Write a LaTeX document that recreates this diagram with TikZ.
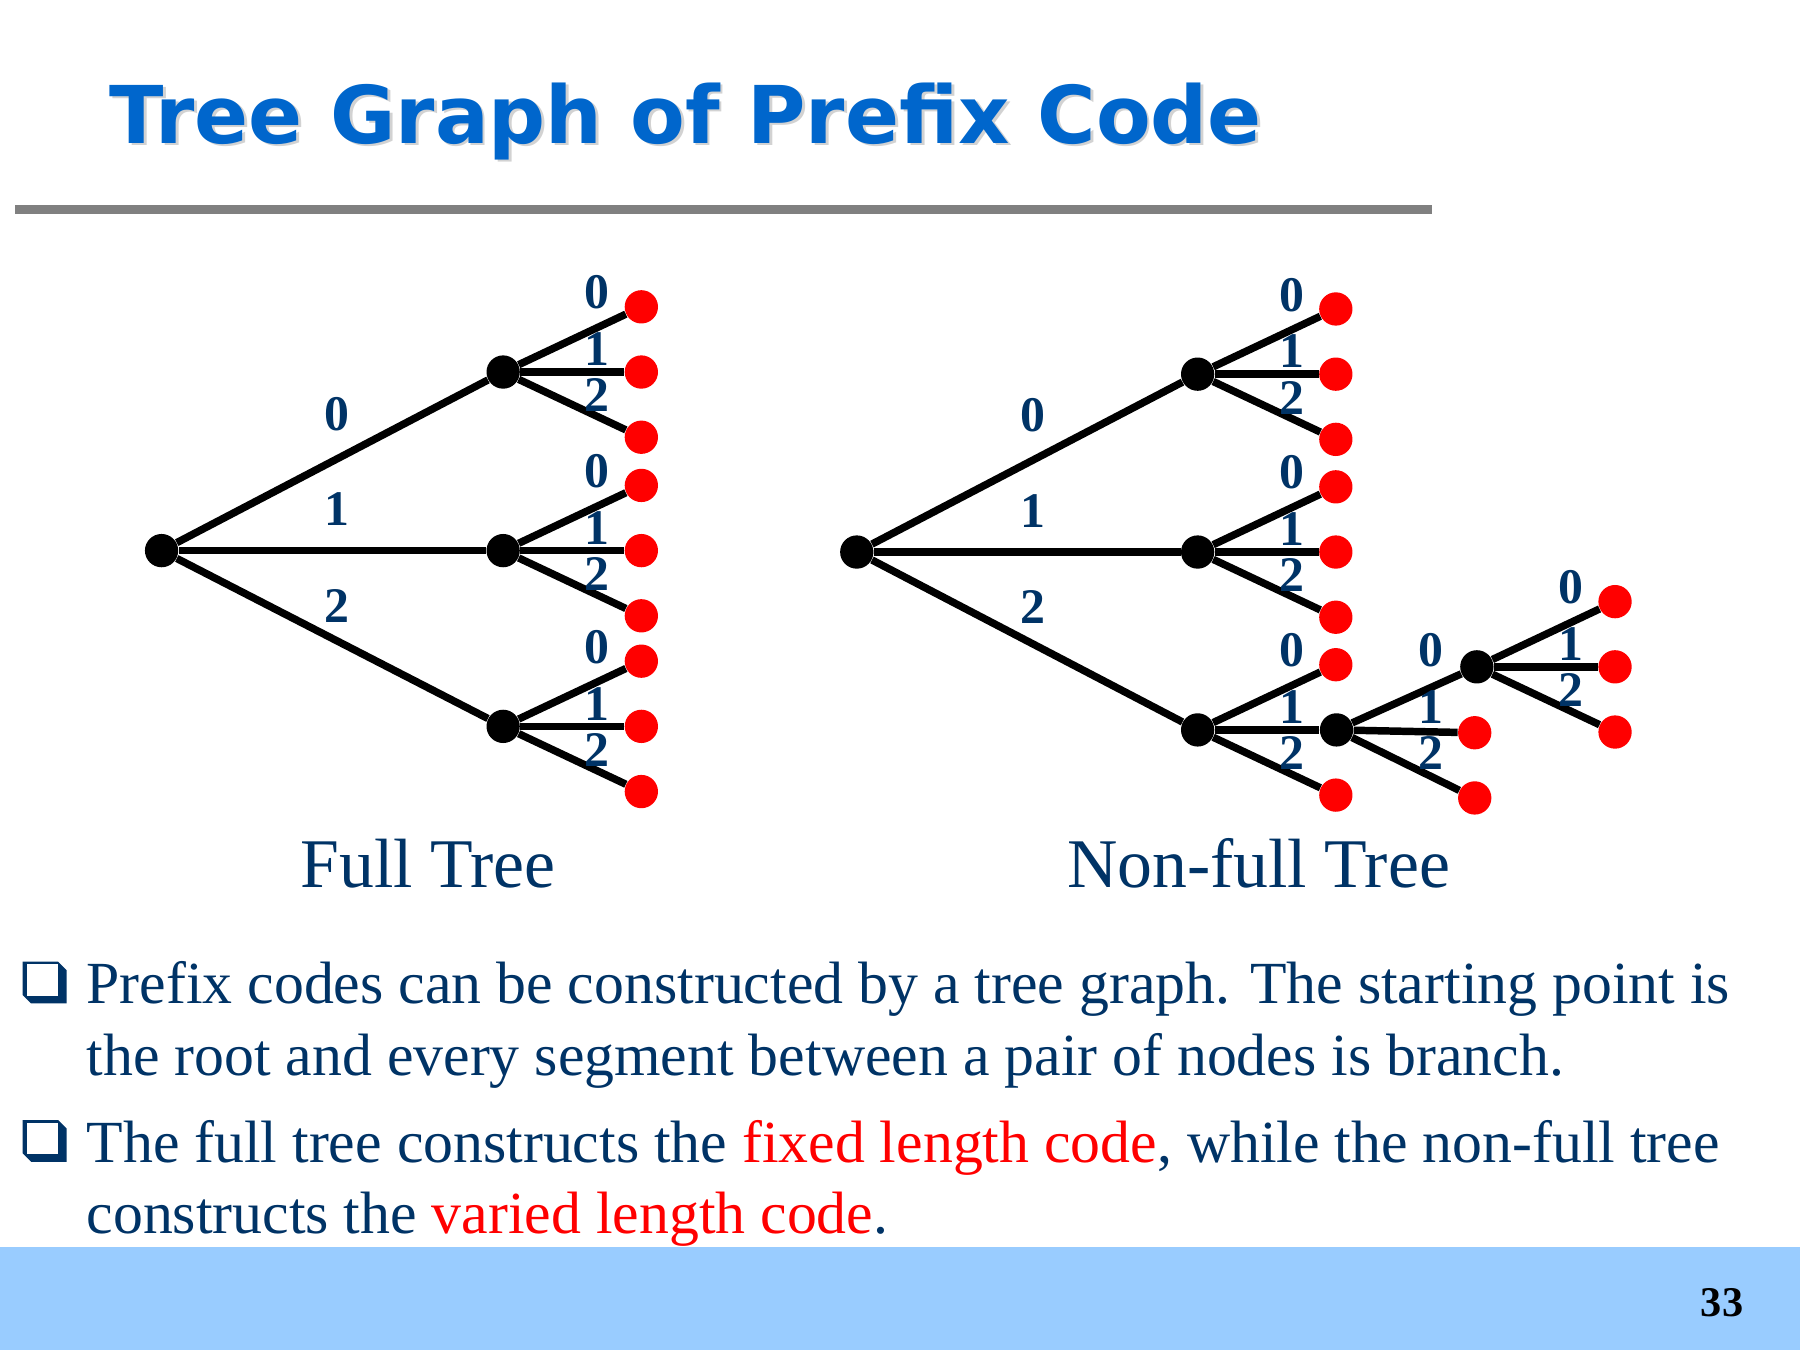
\documentclass[tikz,border=0pt]{standalone}
\usepackage{fontspec}
\setmainfont{Liberation Serif}
\newfontfamily\titlefont{DejaVu Sans}
\usepackage{tikz}
\usetikzlibrary{positioning}

\definecolor{titleblue}{HTML}{0066CC}
\definecolor{textblue}{HTML}{003366}
\definecolor{footblue}{HTML}{99CCFF}

\begin{document}
\begin{tikzpicture}[branch/.style={draw=black, line width=3pt},
    inner/.style={circle, fill=black, minimum size=0.47cm, inner sep=0pt},
    leaf/.style={circle, fill=red, minimum size=0.47cm, inner sep=0pt},
    digit/.style={text=textblue, font=\fontsize{20}{20}\selectfont\bfseries, inner sep=0pt},
    caption/.style={text=textblue, font=\fontsize{28}{30}\selectfont, anchor=base},
    bodyline/.style={text=textblue, font=\fontsize{24}{28}\selectfont, anchor=base west, inner sep=0pt}]

    \useasboundingbox (0,0) rectangle (25.4,19.05);

    % title and rule
    \node[anchor=base west, inner sep=0pt, text=gray!35, font=\fontsize{32}{36}\selectfont\titlefont\bfseries] (titleshadow) at (1.58,16.99) {Tree Graph of Prefix Code};
    \node[anchor=base west, inner sep=0pt, text=titleblue, font=\fontsize{32}{36}\selectfont\titlefont\bfseries] (title) at (1.54,17.03) {Tree Graph of Prefix Code};
    \fill[gray] (0.21,16.03) rectangle (20.20,16.16);

    % full tree
    \node[inner] (L) at (2.28,11.28) {};
    \node[inner] (La) at (7.10,13.80) {};
    \node[inner] (Lb) at (7.10,11.28) {};
    \node[inner] (Lc) at (7.10,8.80) {};

    % non-full tree
    \node[inner] (R) at (12.09,11.26) {};
    \node[inner] (Ra) at (16.90,13.77) {};
    \node[inner] (Rb) at (16.90,11.26) {};
    \node[inner] (Rc) at (16.90,8.75) {};
    \node[inner] (Rd) at ([shift={(1.96,0)}]Rc) {};
    \node[inner] (Re) at ([shift={(1.98,0.89)}]Rd) {};

    \node[leaf] (Rc0) at ([shift={(1.95,0.92)}]Rc) {};
    \node[leaf] (Rc2) at ([shift={(1.95,-0.92)}]Rc) {};
    \node[leaf] (Rd1) at ([shift={(1.95,-0.04)}]Rd) {};
    \node[leaf] (Rd2) at ([shift={(1.95,-0.96)}]Rd) {};

    \foreach \p in {La,Lb,Lc,Ra,Rb,Re} {
        \node[leaf] (\p0) at ([shift={(1.95,0.92)}]\p) {};
        \node[leaf] (\p1) at ([shift={(1.95,0)}]\p) {};
        \node[leaf] (\p2) at ([shift={(1.95,-0.92)}]\p) {};
        \draw[branch] (\p) -- (\p0);
        \draw[branch] (\p) -- (\p1);
        \draw[branch] (\p) -- (\p2);
    }

    \foreach \a/\b in {L/La, L/Lb, L/Lc, R/Ra, R/Rb, R/Rc, Rc/Rc0, Rc/Rd, Rc/Rc2, Rd/Re, Rd/Rd1, Rd/Rd2}
        \draw[branch] (\a) -- (\b);

    % branch labels
    \foreach \p in {L,R} {
        \node[digit] (\p-l0) at ([shift={(2.48,1.93)}]\p) {0};
        \node[digit] (\p-l1) at ([shift={(2.48,0.58)}]\p) {1};
        \node[digit] (\p-l2) at ([shift={(2.48,-0.78)}]\p) {2};
    }
    \foreach \p in {La,Lb,Lc,Ra,Rb,Rc,Rd,Re} {
        \node[digit] (\p-l0) at ([shift={(1.33,1.12)}]\p) {0};
        \node[digit] (\p-l1) at ([shift={(1.33,0.32)}]\p) {1};
        \node[digit] (\p-l2) at ([shift={(1.33,-0.33)}]\p) {2};
    }

    \node[caption] (fullcap) at (6.04,6.53) {Full Tree};
    \node[caption] (nonfullcap) at (17.76,6.53) {Non-full Tree};

    % bullets
    \foreach \y in {0,-2.236} {
        \fill[textblue] (0.32,5.48+\y) -- (0.82,5.48+\y) -- (0.94,5.36+\y) -- (0.94,4.89+\y) -- (0.44,4.89+\y) -- (0.32,5.01+\y) -- cycle;
        \fill[white] (0.375,5.445+\y) rectangle (0.815,5.00+\y);
    }

    \node[bodyline] (line1) at (1.215,4.89) {Prefix codes can be constructed by a tree graph. The starting point is};
    \node[bodyline] (line2) at (1.215,3.88) {the root and every segment between a pair of nodes is branch.};
    \node[bodyline] (line3) at (1.215,2.65) {The full tree constructs the \textcolor{red}{fixed length code}, while the non-full tree};
    \node[bodyline] (line4) at (1.215,1.64) {constructs the \textcolor{red}{varied length code}.};

    % footer
    \fill[footblue] (0,0) rectangle (25.4,1.46);
    \node[anchor=base, font=\fontsize{17}{17}\selectfont\bfseries] (pagenum) at (24.30,0.47) {33};

\end{tikzpicture}
\end{document}
